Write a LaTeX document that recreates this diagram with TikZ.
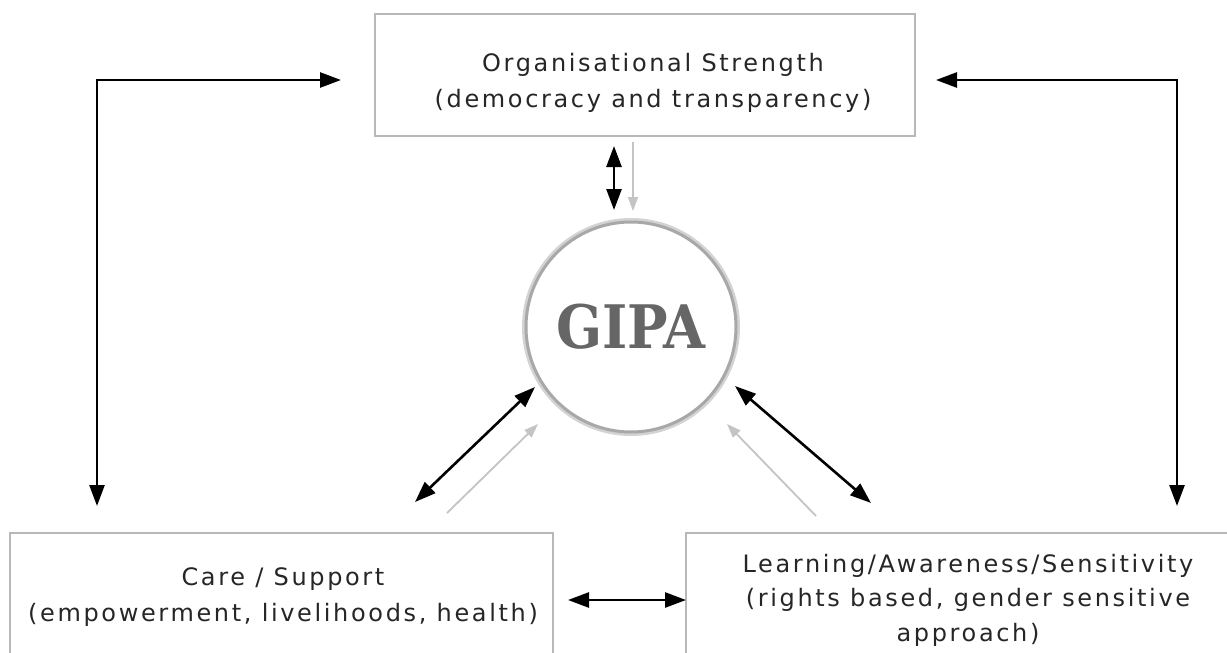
\documentclass[tikz,border=0pt]{standalone}
\usepackage{fontspec}
\setmainfont{DejaVu Sans}
\newfontfamily\lbl[LetterSpace=11]{DejaVu Sans}
\newfontfamily\slabfont{DejaVu Serif Condensed}
\usetikzlibrary{arrows.meta}
\definecolor{boxgray}{HTML}{B8B8B8}
\definecolor{txtgray}{HTML}{262626}
\definecolor{gipagray}{HTML}{666666}
\definecolor{ringgray}{HTML}{A8A8A8}
\definecolor{ghost}{HTML}{C4C4C4}
\tikzset{
  box/.style={draw=boxgray, line width=2pt, fill=white, inner sep=0pt},
  lbltext/.style={text=txtgray, align=center, inner sep=0pt, font=\fontsize{24}{36}\selectfont\lbl},
  link/.style={line width=2.6pt, black, {Triangle[length=21pt,width=15pt]}-{Triangle[length=21pt,width=15pt]}},
  ghostarrow/.style={line width=1.8pt, ghost, -{Triangle[length=14pt,width=10pt]}},
}
\begin{document}
\begin{tikzpicture}[x=1pt,y=-1pt]
\useasboundingbox (0,0) rectangle (1227,653);
\clip (0,0) rectangle (1227,653);
\fill[white] (0,0) rectangle (1227,653);

% boxes
\node[box, minimum width=540pt, minimum height=122pt] (org) at (645,75) {};
\node[box, minimum width=543pt, minimum height=127pt] (care) at (281.5,596.5) {};
\node[box, minimum width=564pt, minimum height=127pt] (learn) at (968,596.5) {};

% box texts
\node[lbltext] (orgtext) at (653,83) {Organisational Strength\\(democracy and transparency)};
\node[lbltext] (caretext) at (283,597) {Care / Support\\(empowerment, livelihoods, health)};
\node[lbltext, font=\fontsize{24}{34.5}\selectfont\lbl] (learntext) at (968,600) {Learning/Awareness/Sensitivity\\(rights based, gender sensitive\\approach)};

% central circle
\node[circle, draw=ringgray!50, line width=6pt, minimum size=212pt, inner sep=0pt] (gipashadow) at (631,327) {};
\node[circle, draw=ringgray, fill=white, line width=3pt, minimum size=210pt, inner sep=0pt,
      text=gipagray, font=\fontsize{60}{60}\selectfont\slabfont\bfseries] (gipa) at (631,327) {\raisebox{-5pt}{GIPA}};

% connector end points
\coordinate (orgL) at (341,80);
\coordinate (careT) at (97,506);
\coordinate (orgR) at (936,80);
\coordinate (learnT) at (1177,506);
\coordinate (vtop) at (614,146);
\coordinate (vbot) at (614,210);
\coordinate (gtop) at (633,142);
\coordinate (gbot) at (633,211);
\coordinate (lA) at (415,502);
\coordinate (lB) at (535,387);
\coordinate (lgA) at (447,513);
\coordinate (lgB) at (538,424);
\coordinate (rA) at (735,386);
\coordinate (rB) at (871,503);
\coordinate (rgA) at (816,516);
\coordinate (rgB) at (727,424);
\coordinate (hA) at (568,600);
\coordinate (hB) at (686,600);

% connectors
\draw[link] (orgL) -| (careT);
\draw[link] (orgR) -| (learnT);
\draw[ghostarrow] (gtop) -- (gbot);
\draw[link] (vtop) -- (vbot);
\draw[ghostarrow] (lgA) -- (lgB);
\draw[link] (lA) -- (lB);
\draw[ghostarrow] (rgA) -- (rgB);
\draw[link] (rA) -- (rB);
\draw[link] (hA) -- (hB);
\end{tikzpicture}
\end{document}
